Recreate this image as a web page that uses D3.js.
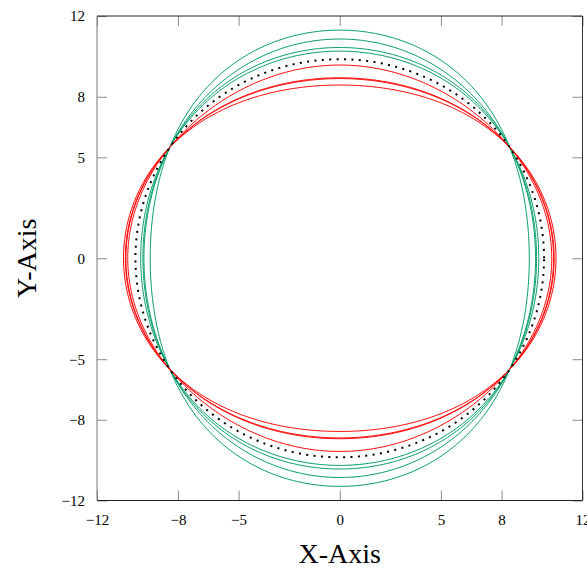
<!DOCTYPE html>
<html>
<head>
<meta charset="utf-8">
<script src="https://cdn.jsdelivr.net/npm/d3@7"></script>
<style>
  body { margin: 0; background: #fff; }
  text { font-family: "Liberation Serif", "Times New Roman", serif; }
</style>
</head>
<body>
<svg id="chart" width="587" height="570"></svg>
<script>
// Tick values on both axes
const xTicks = [-12, -8, -5, 0, 5, 8, 12];
const yTicks = [-12, -8, -5, 0, 5, 8, 12];

// Semi-axes (x-extent, y-extent) of each closed contour
const redRx   = [10.48, 10.57, 10.60, 10.69];
const redRy   = [9.57, 8.94, 8.90, 8.58];
const greenRx = [9.37, 9.68, 9.73, 9.84];
const greenRy = [11.30, 10.86, 10.44, 10.26];
const refRx   = [10.10];
const refRy   = [9.86];

// Point (first quadrant) shared by every contour
const crossPoint = [8.4, 5.5];

const plot = { left: 97, right: 582.5, top: 16, bottom: 500.5 };

const svg = d3.select("#chart");

const x = d3.scaleLinear().domain([-12, 12]).range([plot.left, plot.right]);
const y = d3.scaleLinear().domain([-12, 12]).range([plot.bottom, plot.top]);

// Contour in polar form: elliptical base plus a sin^2(2θ) term so that
// each curve runs through the shared crossing point.
function contour(a, b) {
  const r0 = Math.hypot(crossPoint[0], crossPoint[1]);
  const t0 = Math.atan2(crossPoint[1], crossPoint[0]);
  const c0 = Math.cos(t0), s0 = Math.sin(t0);
  const k = (1 / (r0 * r0) - (c0 * c0) / (a * a) - (s0 * s0) / (b * b)) /
            Math.pow(Math.sin(2 * t0), 2);
  const n = 720;
  return d3.range(n + 1).map(i => {
    const t = (i / n) * 2 * Math.PI;
    const c = Math.cos(t), s = Math.sin(t);
    const inv = (c * c) / (a * a) + (s * s) / (b * b) + k * Math.pow(Math.sin(2 * t), 2);
    const r = 1 / Math.sqrt(inv);
    return [r * c, r * s];
  });
}

const line = d3.line().x(d => x(d[0])).y(d => y(d[1]));

const curves = svg.append("g");

greenRx.forEach((a, i) => {
  curves.append("path")
    .attr("d", line(contour(a, greenRy[i])))
    .attr("fill", "none")
    .attr("stroke", "#009b65")
    .attr("stroke-width", 1);
});

redRx.forEach((a, i) => {
  curves.append("path")
    .attr("d", line(contour(a, redRy[i])))
    .attr("fill", "none")
    .attr("stroke", "#ff0000")
    .attr("stroke-width", 1);
});

refRx.forEach((a, i) => {
  curves.append("path")
    .attr("d", line(contour(a, refRy[i])))
    .attr("fill", "none")
    .attr("stroke", "#000")
    .attr("stroke-width", 2)
    .attr("stroke-dasharray", "2,5.4");
});

// Axes: ticks point inward on all four sides
const fmt = d3.format("d");

const gBottom = svg.append("g")
  .attr("transform", `translate(0,${plot.bottom})`)
  .call(d3.axisBottom(x).tickValues(xTicks).tickFormat(fmt).tickSize(-10).tickPadding(14));
const gTop = svg.append("g")
  .attr("transform", `translate(0,${plot.top})`)
  .call(d3.axisTop(x).tickValues(xTicks).tickFormat("").tickSize(-10));
const gLeft = svg.append("g")
  .attr("transform", `translate(${plot.left},0)`)
  .call(d3.axisLeft(y).tickValues(yTicks).tickFormat(fmt).tickSize(-10).tickPadding(12));
const gRight = svg.append("g")
  .attr("transform", `translate(${plot.right},0)`)
  .call(d3.axisRight(y).tickValues(yTicks).tickFormat("").tickSize(-10));

[gBottom, gTop, gLeft, gRight].forEach(g => {
  g.select(".domain").remove();
  g.selectAll(".tick line").attr("stroke", "#8c8c8c").attr("stroke-width", 1);
  g.selectAll(".tick text")
    .attr("fill", "#000")
    .style("font-family", '"Liberation Serif", serif')
    .style("font-size", "15px");
});

// Frame
const frame = svg.append("g").attr("fill", "none").attr("stroke-width", 1);
frame.append("line").attr("x1", plot.left).attr("x2", plot.right).attr("y1", plot.top).attr("y2", plot.top).attr("stroke", "#222");
frame.append("line").attr("x1", plot.left).attr("x2", plot.right).attr("y1", plot.bottom).attr("y2", plot.bottom).attr("stroke", "#222");
frame.append("line").attr("x1", plot.right).attr("x2", plot.right).attr("y1", plot.top).attr("y2", plot.bottom).attr("stroke", "#333");
frame.append("line").attr("x1", plot.left).attr("x2", plot.left).attr("y1", plot.top).attr("y2", plot.bottom).attr("stroke", "#777");

// Axis titles
svg.append("text")
  .attr("x", (plot.left + plot.right) / 2)
  .attr("y", 563)
  .attr("text-anchor", "middle")
  .style("font-size", "28px")
  .text("X-Axis");

svg.append("text")
  .attr("transform", `translate(36,${(plot.top + plot.bottom) / 2}) rotate(-90)`)
  .attr("text-anchor", "middle")
  .style("font-size", "28px")
  .text("Y-Axis");
</script>
</body>
</html>
